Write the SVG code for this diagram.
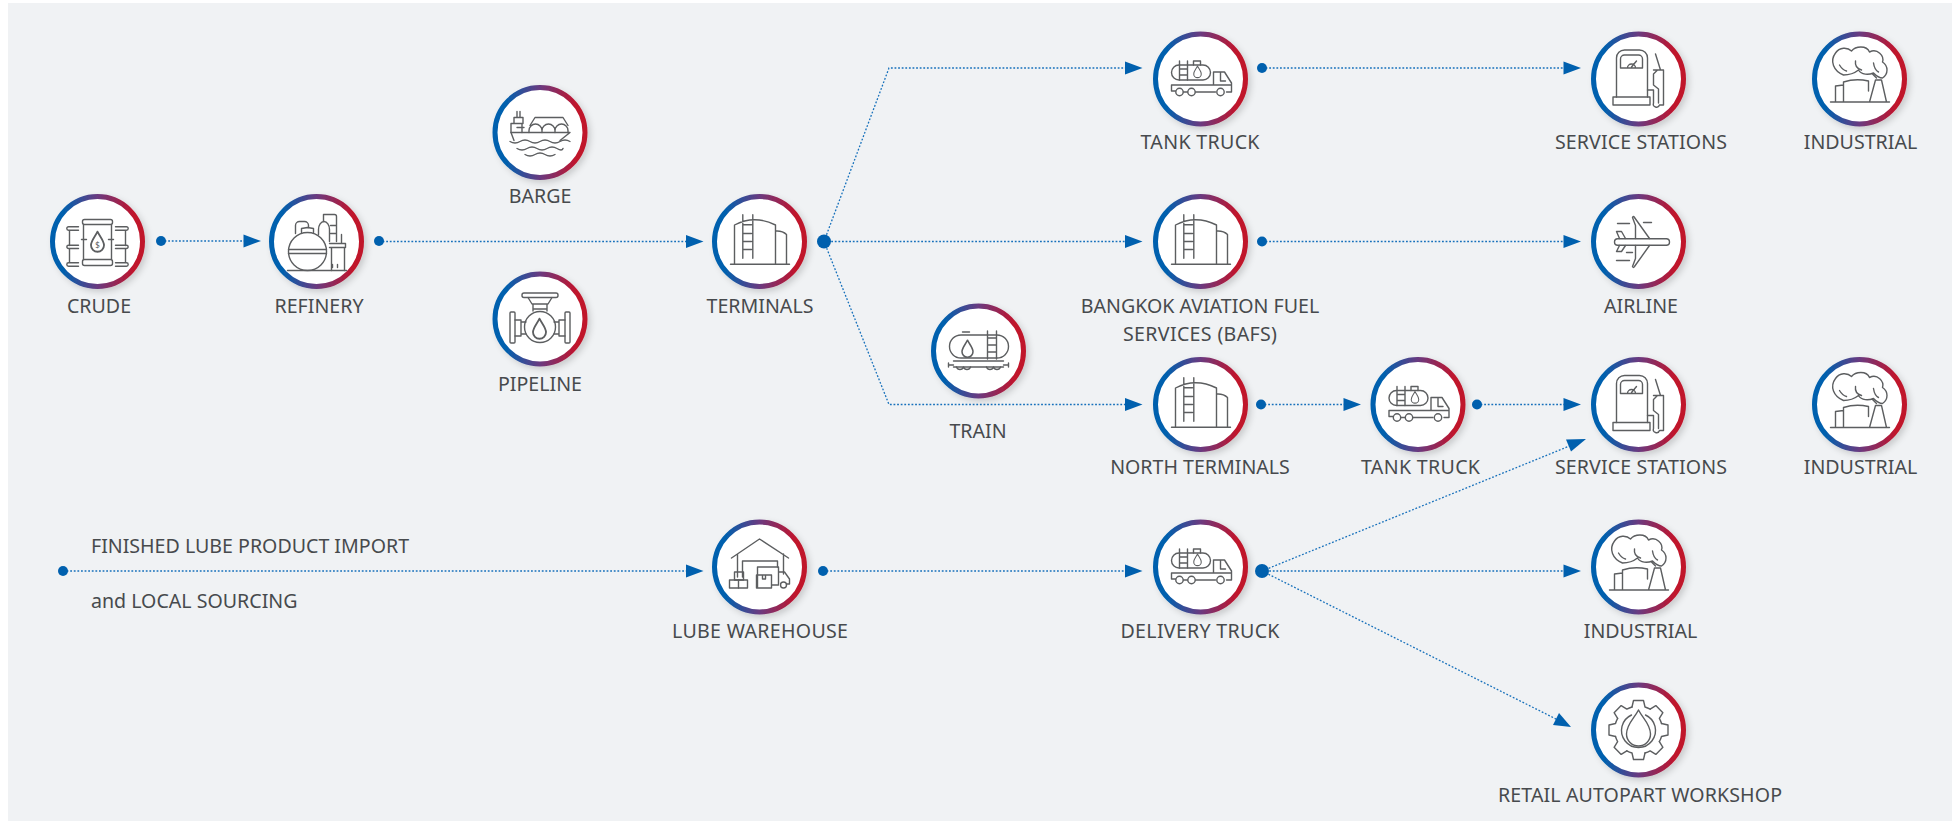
<svg xmlns="http://www.w3.org/2000/svg" width="1959" height="821" viewBox="0 0 1959 821">
<style>
text{font-family:"Noto Sans","Open Sans","Liberation Sans",sans-serif;font-size:19.6px;fill:#474a4d}
.c{text-anchor:middle}
.ring{fill:#fff;stroke:url(#rg);stroke-width:5;filter:url(#sh)}
.ic{fill:none;stroke:#5c5e60;stroke-width:1.4;stroke-linecap:round;stroke-linejoin:round}
.ln{fill:none;stroke:#1670bb;stroke-width:1.3;stroke-dasharray:1.8 1.8}
.dot{fill:#0060ae}
.ar{fill:#0060ae}
</style>
<defs>
<linearGradient id="rg" x1="0" y1="0" x2="1" y2="0"><stop offset="0.12" stop-color="#0060ae"/><stop offset="0.5" stop-color="#6a3a80"/><stop offset="0.9" stop-color="#c0142c"/></linearGradient>
<filter id="sh" x="-20%" y="-20%" width="150%" height="150%"><feDropShadow dx="3" dy="3" stdDeviation="3" flood-color="#000" flood-opacity="0.16"/></filter>
<path id="drop" d="M0,-8 C-2,-4 -5,-1 -5,2.500 A5,5 0 0 0 5,2.500 C5,-1 2,-4 0,-8Z"/>
<g id="i-crude" class="ic">
<rect x="-15" y="-22" width="30" height="5" rx="2"/><rect x="-15" y="18" width="30" height="6" rx="2"/><path d="M-14,-17V18M14,-17V18M-16,-2H-11M11,-2H16"/>
<use href="#drop" transform="translate(0,0.500) scale(1.300)"/>
<text x="0" y="6" text-anchor="middle" style="font-size:8px;fill:#5c5e60;stroke:none">$</text>
<path d="M-19,-14.700H-29A1.500,1.500 0 0 0 -29,-11.300H-19M-28,-11V4M-19,3.700H-29A1.500,1.500 0 0 0 -29,7H-19M-28,7V21M-19,21.300H-29A1.500,1.500 0 0 0 -29,24.700H-19"/>
<path d="M18,-14.700H29A1.500,1.500 0 0 1 29,-11.300H18M28,-11V4M18,3.700H29A1.500,1.500 0 0 1 29,7H18M28,7V21M18,21.300H29A1.500,1.500 0 0 1 29,24.700H18"/>
</g>
<g id="i-ref" class="ic">
<circle cx="-9" cy="10" r="19"/><path d="M-28,8H10M-28,12H10M-15,-9V-13L-9,-14L-3,-13V-9M-29,29H30"/>
<path d="M-21,-8V-16A4,4 0 0 1 -17,-20H-12A4,4 0 0 1 -8,-16V-14"/>
<path d="M2,-7V-12A5.500,8 0 0 1 13,-12V0"/><path d="M7,-20V-27H18A2,2 0 0 1 20,-25V0M14,-16H20M14,-8H20"/>
<path d="M13,2H29V6H13M15,6V29M28,6V29M25,-7V2"/><path d="M16,23V26M21,23V26"/>
</g>
<g id="i-barge" class="ic">
<path d="M-29,0H30L20,8M-29,0L-26,8"/><path d="M-29,0V-9H-18V0M-26,-9V-15H-17V-9M-23,-15V-21M-20,-15V-21M-23,-5H-16"/>
<path d="M-11,0V-2A6.500,6.500 0 0 1 2,-2V0M2,-2A6.500,6.500 0 0 1 15,-2V0M15,-2A6.500,6.500 0 0 1 28,-2V0M-10,-7L-5,-15H23L28,-7"/>
<path d="M-30,9Q-25,12 -20,9T-10,9T0,9T10,9T20,9T30,9M-23,16Q-18,19 -13,16T-3,16T7,16T17,16T23,16M-15,22Q-10,25 -5,22T5,22T15,22"/>
</g>
<g id="i-pipe" class="ic">
<rect x="-18" y="-26" width="36" height="4.500" rx="2"/><path d="M-12,-21.500L-8,-15H8L12,-21.500M-7,-15V-8M7,-15V-8M-7,-10H7"/><circle cx="0" cy="8" r="15.500"/>
<rect x="-30" y="-7" width="5" height="31" rx="1"/><rect x="25" y="-7" width="5" height="31" rx="1"/>
<path d="M-25,1H-19V17H-25M-19,3H-14M-19,15H-14M25,1H19V17H25M19,3H14M19,15H14"/>
<use href="#drop" transform="translate(-0.500,10) scale(1.300)"/>
</g>
<g id="i-tank" class="ic">
<path d="M-25,22.700V-16.500Q-5,-27 16,-16.500V22.700M16,-10.500Q23,-11 27,-7V22.700M-29,22.700H30M-16.700,-26.700V16.700M-6.700,-26.700V16.700M-16.700,-16.700H-8M-16.700,-8H-8M-16.700,0H-8M-16.700,8H-8"/>
</g>
<g id="i-truck" class="ic">
<rect x="-29" y="-14" width="39" height="15" rx="7.500"/><path d="M-21,-18V1M-13,-18V1M-21,-10H-13M-21,-4H-13M-7,-14V-18H0V-14"/>
<use href="#drop" transform="translate(-3,-7) scale(0.750)"/>
<path d="M-29,6H13V-7H24L31,4V13H26M-29,6V12H-25M-17,13H-13M-5,13H15M13,6H30M20,-7V2H25"/>
<circle cx="-21" cy="13" r="3.700"/><circle cx="-9" cy="13" r="3.700"/><circle cx="20" cy="13" r="3.700"/>
</g>
<g id="i-station" class="ic">
<path d="M-22,18V-21A8,8 0 0 1 -14,-29H1A8,8 0 0 1 9,-21V18"/><rect x="-25.500" y="18" width="37" height="8"/>
<path d="M-18,-11V-20A4,4 0 0 1 -14,-24H0A4,4 0 0 1 4,-20V-11ZM-11,-11A4,4 0 0 1 -3,-11M-7,-12L-2,-18"/>
<path d="M9,11H15V24A3,3 0 0 0 21,26H25V-9H22L17,-25M15,-9H25M15,-5V6L20,10V24M15,-5L19,-9"/>
</g>
<g id="i-ind" class="ic">
<path d="M-29,23H30M-24,23V7L-16,6M-16,23V3Q-4,-1 9,2V12M10,23L16,1H22L27,23"/>
<path d="M-16,-4C-26,-8 -30,-18 -24,-26C-20,-32 -12,-32 -8,-28C-4,-33 7,-34 10,-27C18,-31 25,-23 23,-17C29,-13 29,-5 23,-1C19,-1 16,-4 14,-6C9,-4 2,-4 -1,-9C-6,-5 -12,-4 -16,-4ZM-20,-14Q-17,-9 -13,-8M-4,-18Q-5,-11 2,-9M14,-16Q15,-9 19,-7M13,-5L17,-1"/>
</g>
<g id="i-air" class="ic">
<rect x="-24" y="-2.800" width="55" height="6.500" rx="3.200"/><path d="M-3,-3V-16L-6,-24Q-5,-26 -4,-24L11,-3M-3,4V17L-6,25Q-5,27 -4,25L11,4M-13,-3L-17,-10H-22L-19,-3M-13,4L-17,10H-22L-19,4M-21,-18H-9M5,-19H13M-12,11H-6M-22,19H-9"/>
</g>
<g id="i-ware" class="ic">
<path d="M-28,-9L0,-28L29,-9M-22,-13V10M24,-13V7M-17,10V-6H18V0"/>
<rect x="-30" y="13" width="18" height="8"/><rect x="-25" y="5" width="9" height="8"/><path d="M-21,13V21"/>
<path d="M-2,21V0H19V17M-3,8H12V21H-3ZM3,8V12H6V8M19,5H25L30,12V17H27M13,18H19"/><circle cx="24" cy="18" r="3"/>
</g>
<g id="i-rail" class="ic">
<rect x="-29" y="-16" width="59" height="23" rx="11.500"/><path d="M-16,-19H-9M9,-20V8M18,-20V8M9,-13H18M9,-6H18M9,1H18"/>
<use href="#drop" transform="translate(-11,-2) scale(1.100)"/>
<path d="M-25,10H25M-25,16H25M-30,14H-25M30,14H25M-30,12V16M30,12V16"/>
<path d="M-22,16A3.700,3.700 0 0 0 -15,16M-15,16A3.700,3.700 0 0 0 -8,16M8,16A3.700,3.700 0 0 0 15,16M15,16A3.700,3.700 0 0 0 22,16"/>
</g>
<path id="tooth" d="M-6.500,-23L-5,-29.500H5L6.500,-23A24,24 0 0 1 11.670,-20.860"/>
<g id="i-gear" class="ic">
<use href="#tooth"/><use href="#tooth" transform="rotate(45)"/><use href="#tooth" transform="rotate(90)"/><use href="#tooth" transform="rotate(135)"/><use href="#tooth" transform="rotate(180)"/><use href="#tooth" transform="rotate(225)"/><use href="#tooth" transform="rotate(270)"/><use href="#tooth" transform="rotate(315)"/>
<path d="M-7,-15A17,17 0 1 0 7,-15"/>
<path d="M0,-20C-4,-12 -12,-6 -12,4A12,12 0 0 0 12,4C12,-6 4,-12 0,-20Z"/>
</g>
</defs>

<rect width="1959" height="821" fill="#fff"/>
<rect x="8" y="3" width="1944" height="818" fill="#f0f2f4"/>

<g id="connectors">
<path class="ln" d="M161,241H246"/><path class="ar" d="M261,241L243.500,234.500V247.500Z"/>
<path class="ln" d="M379,241.500H688"/><path class="ar" d="M703.500,241.500L686,235V248Z"/>
<path class="ln" d="M824,241.500L889,68H1127"/><path class="ar" d="M1142.500,68L1125,61.500V74.500Z"/>
<path class="ln" d="M824,241.500H1127"/><path class="ar" d="M1142.500,241.500L1125,235V248Z"/>
<path class="ln" d="M824,241.500L889,404.500H1127"/><path class="ar" d="M1142.500,404.500L1125,398V411Z"/>
<path class="ln" d="M1262,68H1566"/><path class="ar" d="M1581,68L1563.500,61.500V74.500Z"/>
<path class="ln" d="M1262,241.500H1566"/><path class="ar" d="M1581,241.500L1563.500,235V248Z"/>
<path class="ln" d="M1261,404.500H1346"/><path class="ar" d="M1361,404.500L1343.500,398V411Z"/>
<path class="ln" d="M1477,404.500H1566"/><path class="ar" d="M1581,404.500L1563.500,398V411Z"/>
<path class="ln" d="M63,571H688"/><path class="ar" d="M703.500,571L686,564.500V577.500Z"/>
<path class="ln" d="M823,571H1127"/><path class="ar" d="M1142.500,571L1125,564.500V577.500Z"/>
<path class="ln" d="M1262,571L1572,445"/><path class="ar" d="M1586,439L1571,451.500L1566,439.500Z"/>
<path class="ln" d="M1262,571H1566"/><path class="ar" d="M1581,571L1563.500,564.500V577.500Z"/>
<path class="ln" d="M1262,571L1558,720"/><path class="ar" d="M1571,727L1553,725L1559,713Z"/>
<g class="dot"><circle cx="161" cy="241" r="5"/><circle cx="379" cy="241" r="5"/><circle cx="824" cy="241.500" r="7"/><circle cx="1262" cy="68" r="5"/><circle cx="1262" cy="241.500" r="5"/><circle cx="1261" cy="404.500" r="5"/><circle cx="1477" cy="404.500" r="5"/><circle cx="63" cy="571" r="5"/><circle cx="823" cy="571" r="5"/><circle cx="1262" cy="571" r="7"/></g>
</g>

<g id="crude"><circle class="ring" cx="97.500" cy="241.500" r="45"/><use href="#i-crude" x="97.500" y="241.500"/><text class="c" x="99" y="313">CRUDE</text></g>
<g id="refinery"><circle class="ring" cx="316.500" cy="241.500" r="45"/><use href="#i-ref" x="316.500" y="241.500"/><text class="c" x="319" y="313">REFINERY</text></g>
<g id="barge"><circle class="ring" cx="540" cy="132.500" r="45"/><use href="#i-barge" x="540" y="132.500"/><text class="c" x="540" y="203">BARGE</text></g>
<g id="pipeline"><circle class="ring" cx="540" cy="319" r="45"/><use href="#i-pipe" x="540" y="319"/><text class="c" x="540" y="391">PIPELINE</text></g>
<g id="terminals"><circle class="ring" cx="759.500" cy="241.500" r="45"/><use href="#i-tank" x="759.500" y="241.500"/><text class="c" x="760" y="313">TERMINALS</text></g>
<g id="tank-truck-1"><circle class="ring" cx="1200.500" cy="79" r="45"/><use href="#i-truck" x="1200.500" y="79"/><text class="c" x="1200" y="149" textLength="119">TANK TRUCK</text></g>
<g id="service-1"><circle class="ring" cx="1638.500" cy="79" r="45"/><use href="#i-station" x="1638.500" y="79"/><text class="c" x="1641" y="149" textLength="172">SERVICE STATIONS</text></g>
<g id="industrial-1"><circle class="ring" cx="1859.500" cy="79" r="45"/><use href="#i-ind" x="1859.500" y="79"/><text class="c" x="1860.500" y="149">INDUSTRIAL</text></g>
<g id="bafs"><circle class="ring" cx="1200.500" cy="241.500" r="45"/><use href="#i-tank" x="1200.500" y="241.500"/><text class="c" x="1200" y="313">BANGKOK AVIATION FUEL</text><text class="c" x="1200" y="341" textLength="154">SERVICES (BAFS)</text></g>
<g id="airline"><circle class="ring" cx="1638.500" cy="241.500" r="45"/><use href="#i-air" x="1638.500" y="241.500"/><text class="c" x="1641" y="313">AIRLINE</text></g>
<g id="train"><circle class="ring" cx="978.500" cy="351" r="45"/><use href="#i-rail" x="978.500" y="351"/><text class="c" x="978" y="438">TRAIN</text></g>
<g id="north"><circle class="ring" cx="1200.500" cy="404.500" r="45"/><use href="#i-tank" x="1200.500" y="404.500"/><text class="c" x="1200" y="474">NORTH TERMINALS</text></g>
<g id="tank-truck-2"><circle class="ring" cx="1418" cy="404.500" r="45"/><use href="#i-truck" x="1418" y="404.500"/><text class="c" x="1420.500" y="474" textLength="119">TANK TRUCK</text></g>
<g id="service-2"><circle class="ring" cx="1638.500" cy="404.500" r="45"/><use href="#i-station" x="1638.500" y="404.500"/><text class="c" x="1641" y="474" textLength="172">SERVICE STATIONS</text></g>
<g id="industrial-2"><circle class="ring" cx="1859.500" cy="404.500" r="45"/><use href="#i-ind" x="1859.500" y="404.500"/><text class="c" x="1860.500" y="474">INDUSTRIAL</text></g>
<g id="import"><text x="91" y="553">FINISHED LUBE PRODUCT IMPORT</text><text x="91" y="608">and LOCAL SOURCING</text></g>
<g id="lube"><circle class="ring" cx="759.500" cy="567" r="45"/><use href="#i-ware" x="759.500" y="567"/><text class="c" x="760" y="638" textLength="176">LUBE WAREHOUSE</text></g>
<g id="delivery"><circle class="ring" cx="1200.500" cy="567" r="45"/><use href="#i-truck" x="1200.500" y="567"/><text class="c" x="1200" y="638" textLength="159">DELIVERY TRUCK</text></g>
<g id="industrial-3"><circle class="ring" cx="1638.500" cy="567" r="45"/><use href="#i-ind" x="1638.500" y="567"/><text class="c" x="1640.500" y="638">INDUSTRIAL</text></g>
<g id="retail"><circle class="ring" cx="1638.500" cy="730" r="45"/><use href="#i-gear" x="1638.500" y="730"/><text class="c" x="1640" y="802" textLength="284">RETAIL AUTOPART WORKSHOP</text></g>
</svg>
